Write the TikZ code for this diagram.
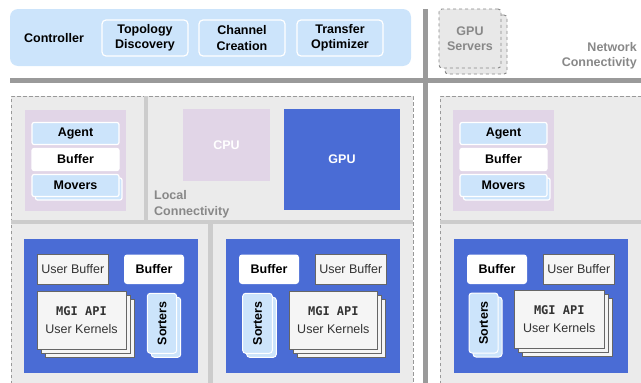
\documentclass[tikz,border=0pt]{standalone}
\usepackage{fontspec}
\setmainfont{Liberation Sans}
\setmonofont{DejaVu Sans Mono}
\definecolor{lblue}{HTML}{CCE4FB}
\definecolor{lpurple}{HTML}{E1D5E7}
\definecolor{dblue}{HTML}{4A6CD5}
\definecolor{regionfill}{HTML}{EBEBEB}
\definecolor{seplightc}{HTML}{CCCCCC}
\definecolor{sepdarkc}{HTML}{9A9A9A}
\definecolor{dashc}{HTML}{999999}
\definecolor{graytxt}{HTML}{888888}
\definecolor{ubfill}{HTML}{F5F5F5}
\definecolor{ubdraw}{HTML}{666666}
\newcommand\bx[7][]{\node[inner sep=0pt, outer sep=0pt, minimum width={#5-#3}, minimum height={#6-#4}, #1] (#2) at ({(#3+#5)/2},{(#4+#6)/2}) {#7};}
\begin{document}
\begin{tikzpicture}[x=1pt,y=-1pt,
  font=\fontsize{12.5}{15.5}\selectfont,
  bld/.style={font=\fontsize{12.5}{15.5}\selectfont\bfseries},
  subbox/.style={fill=lblue, draw=white, line width=1.2pt, rounded corners=4pt, align=center, bld},
  smallblue/.style={fill=lblue, draw=white, line width=1.2pt, rounded corners=2pt, bld},
  whitebox/.style={fill=white, rounded corners=3pt, bld},
  purplebox/.style={fill=lpurple},
  bluebox/.style={fill=dblue},
  ubox/.style={fill=ubfill, draw=ubdraw, line width=0.9pt, text=black!80},
  sortbox/.style={fill=lblue, draw=white, line width=1pt, rounded corners=3pt},
  srvbox/.style={fill=black!9, draw=graytxt, dashed, line width=0.9pt, rounded corners=3pt, align=center, text=graytxt, bld},
  sepdark/.style={draw=sepdarkc, line width=5pt},
  seplight/.style={draw=seplightc, line width=4.5pt},
  dashb/.style={draw=dashc, line width=0.9pt, dash pattern=on 3.5pt off 2.5pt},
  graylabel/.style={text=graytxt, bld, inner sep=0pt}
]
\useasboundingbox (0,0) rectangle (641,383);

% Controller
\bx[fill=lblue, rounded corners=8pt]{ctrl}{10}{9}{411}{66}{}
\node[bld] (ctrllabel) at (54,38) {Controller};
\bx[subbox]{topo}{102}{20}{188}{56}{Topology\\Discovery}
\bx[subbox]{chan}{199}{20}{285}{56}{Channel\\Creation}
\bx[subbox]{xfer}{297}{20}{383}{56}{Transfer\\Optimizer}

% GPU servers
\bx[srvbox]{srvback}{445}{15}{507}{74}{}
\bx[srvbox]{srv}{439}{9}{501}{68}{GPU\\Servers}
\node[graylabel, align=right, anchor=east] (net) at (637,56) {Network\\Connectivity};

% Left region
\fill[regionfill] (11,96) rectangle (413,383);
\draw[dashb] (11,384) -- (11,96) -- (413,96) -- (413,384);
\draw[seplight] (146,96) -- (146,222);
\draw[seplight] (11,222) -- (413,222);
\draw[seplight] (210.5,222) -- (210.5,384);

% Right region
\fill[regionfill] (440,96) rectangle (642,383);
\draw[dashb] (440,384) -- (440,96) -- (642,96);
\draw[seplight] (440,222) -- (642,222);

% Main separators
\draw[sepdark] (10,80) -- (641,80);
\draw[sepdark] (425.5,9) -- (425.5,383);

% Agent blocks
\bx[purplebox]{agl}{25}{110}{126}{211}{}
\bx[smallblue]{agentl}{32}{122.5}{119}{144.5}{Agent}
\bx[smallblue, fill=white, draw=white]{bufl}{32}{148.5}{119}{170.5}{Buffer}
\bx[smallblue]{moversls}{35.5}{178}{122}{200}{}
\bx[smallblue]{moversl}{32}{174.5}{119}{196.5}{Movers}

\bx[purplebox]{agr}{453}{110}{554}{211}{}
\bx[smallblue]{agentr}{460}{122.5}{547}{144.5}{Agent}
\bx[smallblue, fill=white, draw=white]{bufr}{460}{148.5}{547}{170.5}{Buffer}
\bx[smallblue]{moversrs}{463.5}{178}{550}{200}{}
\bx[smallblue]{moversr}{460}{174.5}{547}{196.5}{Movers}

% CPU / GPU
\bx[purplebox, text=white, bld]{cpu}{183}{109}{270}{181}{CPU}
\bx[bluebox, text=white, bld]{gpu}{284}{109}{400}{210}{GPU}
\node[graylabel, align=left, anchor=west] (localc) at (154,204.5) {Local\\Connectivity};

% Bottom GPU blocks
% left
\bx[bluebox]{g1}{24}{239}{198}{373}{}
\bx[ubox]{ub1}{37}{254.5}{108.5}{284}{User Buffer}
\bx[whitebox]{b1}{124}{254.5}{184}{284}{Buffer}
\bx[ubox]{k1c}{45}{299}{134}{357}{}
\bx[ubox]{k1b}{41}{295}{130}{353}{}
\bx[ubox, align=center]{k1}{37}{291}{126}{349}{{\fontsize{12}{15}\selectfont\ttfamily\bfseries MGI API}\\[3pt]User Kernels}
\bx[sortbox]{s1b}{151.3}{297.3}{180.7}{357.3}{}
\bx[sortbox]{s1}{147.3}{293.3}{176.7}{353.3}{}
\node[bld, rotate=90] (s1t) at (s1) {Sorters};

% middle
\bx[bluebox]{g2}{226}{239}{400}{373}{}
\bx[whitebox]{b2}{239}{254.5}{299}{284}{Buffer}
\bx[ubox]{ub2}{315}{254.5}{386.5}{284}{User Buffer}
\bx[sortbox]{s2b}{246.7}{297.3}{276.3}{357.3}{}
\bx[sortbox]{s2}{242.7}{293.3}{272.3}{353.3}{}
\node[bld, rotate=90] (s2t) at (s2) {Sorters};
\bx[ubox]{k2c}{297}{299}{385.7}{357}{}
\bx[ubox]{k2b}{293}{295}{381.7}{353}{}
\bx[ubox, align=center]{k2}{289}{291}{377.7}{349}{{\fontsize{12}{15}\selectfont\ttfamily\bfseries MGI API}\\[3pt]User Kernels}

% right
\bx[bluebox]{g3}{454}{239}{628}{373}{}
\bx[whitebox]{b3}{467}{254.5}{527}{284}{Buffer}
\bx[ubox]{ub3}{543}{254.5}{614.5}{284}{User Buffer}
\bx[sortbox]{s3b}{473}{297}{502}{357}{}
\bx[sortbox]{s3}{469}{293}{498}{353}{}
\node[bld, rotate=90] (s3t) at (s3) {Sorters};
\bx[ubox]{k3c}{522.3}{298}{612.3}{356.3}{}
\bx[ubox]{k3b}{518.3}{294}{608.3}{352.3}{}
\bx[ubox, align=center]{k3}{514.3}{290}{604.3}{348.3}{{\fontsize{12}{15}\selectfont\ttfamily\bfseries MGI API}\\[3pt]User Kernels}
\end{tikzpicture}
\end{document}
